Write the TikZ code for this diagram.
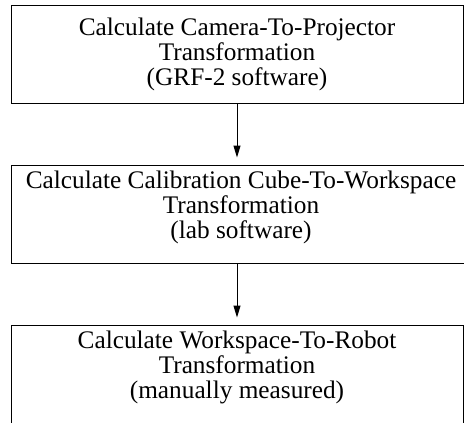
\documentclass[tikz,border=0pt]{standalone}
\usepackage{fontspec}
\setmainfont{Liberation Serif}
\usetikzlibrary{arrows.meta}
\begin{document}
\begin{tikzpicture}[x=1pt,y=-1pt,
  stagebox/.style={draw=black,line width=1pt,fill=white,
    inner sep=0pt,minimum height=98pt},
  stagetext/.style={align=center,inner sep=0pt,
    font=\fontsize{25.3}{25}\selectfont},
  flow/.style={line width=1pt,shorten >=7pt,
    -{Triangle[width=7pt,length=12pt]}}]
\useasboundingbox (0,0) rectangle (464,423);
% the three stages, top to bottom
\node[stagebox,minimum width=452pt] (cam) at (237,54) {};
\node[stagebox,minimum width=460pt] (cube) at (241,214) {};
\node[stagebox,minimum width=452pt] (robot) at (237,374) {};
% their captions
\node[stagetext] (camtext) at (cam.center)
  {Calculate Camera-To-Projector\\Transformation\\(GRF-2 software)};
\node[stagetext] (cubetext) at ([yshift=7pt]cube.center)
  {Calculate Calibration Cube-To-Workspace\\Transformation\\(lab software)};
\node[stagetext] (robottext) at ([yshift=7pt]robot.center)
  {Calculate Workspace-To-Robot\\Transformation\\(manually measured)};
% flow between the stages
\draw[flow] (cam.south) -- (cam.south |- cube.north);
\draw[flow] (cube.south -| cam.south) -- (robot.north);
\end{tikzpicture}
\end{document}
